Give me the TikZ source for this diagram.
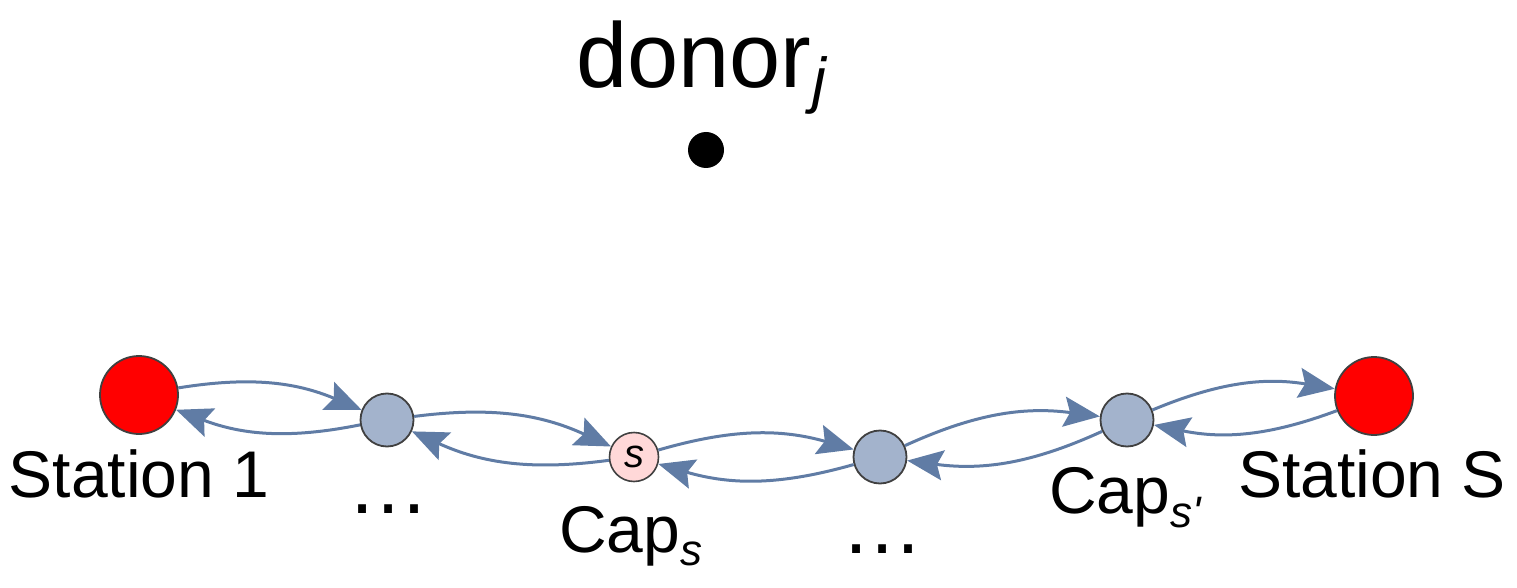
\documentclass[tikz,border=0pt]{standalone}
\usepackage{fontspec}
\setmainfont{Liberation Sans}
\usetikzlibrary{arrows.meta}
\definecolor{edgec}{RGB}{96,124,165}
\definecolor{midfill}{RGB}{163,179,204}
\definecolor{pinkfill}{RGB}{255,216,216}
\definecolor{rimc}{RGB}{64,64,64}
\newcommand{\mysub}[2]{\raisebox{-#1pt}{\fontsize{44}{50}\selectfont\itshape #2}}
\begin{document}
\begin{tikzpicture}[x=1pt,y=-1pt,
  station/.style={circle, draw=rimc, line width=1.8pt, fill=red, minimum size=78pt, inner sep=0pt},
  midnode/.style={circle, draw=rimc, line width=1.8pt, fill=midfill, minimum size=53pt, inner sep=0pt},
  capnode/.style={circle, draw=rimc, line width=1.6pt, fill=pinkfill, minimum size=49pt, inner sep=0pt, font=\fontsize{40}{44}\selectfont\itshape},
  link/.style={draw=edgec, line width=3pt, -{Stealth[length=36pt,width=30pt,inset=6pt]}, bend left=16},
  lab/.style={anchor=base, inner sep=0pt, font=\fontsize{66}{72}\selectfont},
  dots/.style={anchor=base, inner sep=0pt, font=\fontsize{82}{90}\selectfont}]
\useasboundingbox (0,0) rectangle (1517,588);
\node[station] (st1) at (139,395) {};
\node[midnode] (m2) at (387,420) {};
\node[capnode] (cs) at (634,457) {s};
\node[midnode] (m4) at (880,457) {};
\node[midnode] (m5) at (1127,420) {};
\node[station] (stS) at (1374,396) {};
\node[circle, fill=black, minimum size=36pt, inner sep=0pt] (donor) at (706,150) {};
\node[lab, anchor=base west, font=\fontsize{92}{100}\selectfont] (donorlab) at (576,88) {donor\kern1pt\raisebox{-14pt}{\fontsize{62}{66}\selectfont\itshape j}};
\draw[link] (st1) to (m2);
\draw[link] (m2) to (st1);
\draw[link] (m2) to (cs);
\draw[link] (cs) to (m2);
\draw[link] (cs) to (m4);
\draw[link] (m4) to (cs);
\draw[link] (m4) to (m5);
\draw[link] (m5) to (m4);
\draw[link] (m5) to (stS);
\draw[link] (stS) to (m5);
\node[lab] (l1) at (139,497) {Station 1};
\node[lab] (lS) at (1372,497) {Station S};
\node[lab, anchor=base west] (lcs) at (559,552) {Cap\mysub{13}{s}};
\node[lab, anchor=base west] (lcs2) at (1049,513) {Cap\mysub{14}{s\textquotesingle}};
\node[dots] (d1) at (388,513) {…};
\node[dots] (d2) at (882,553) {…};
\end{tikzpicture}
\end{document}
